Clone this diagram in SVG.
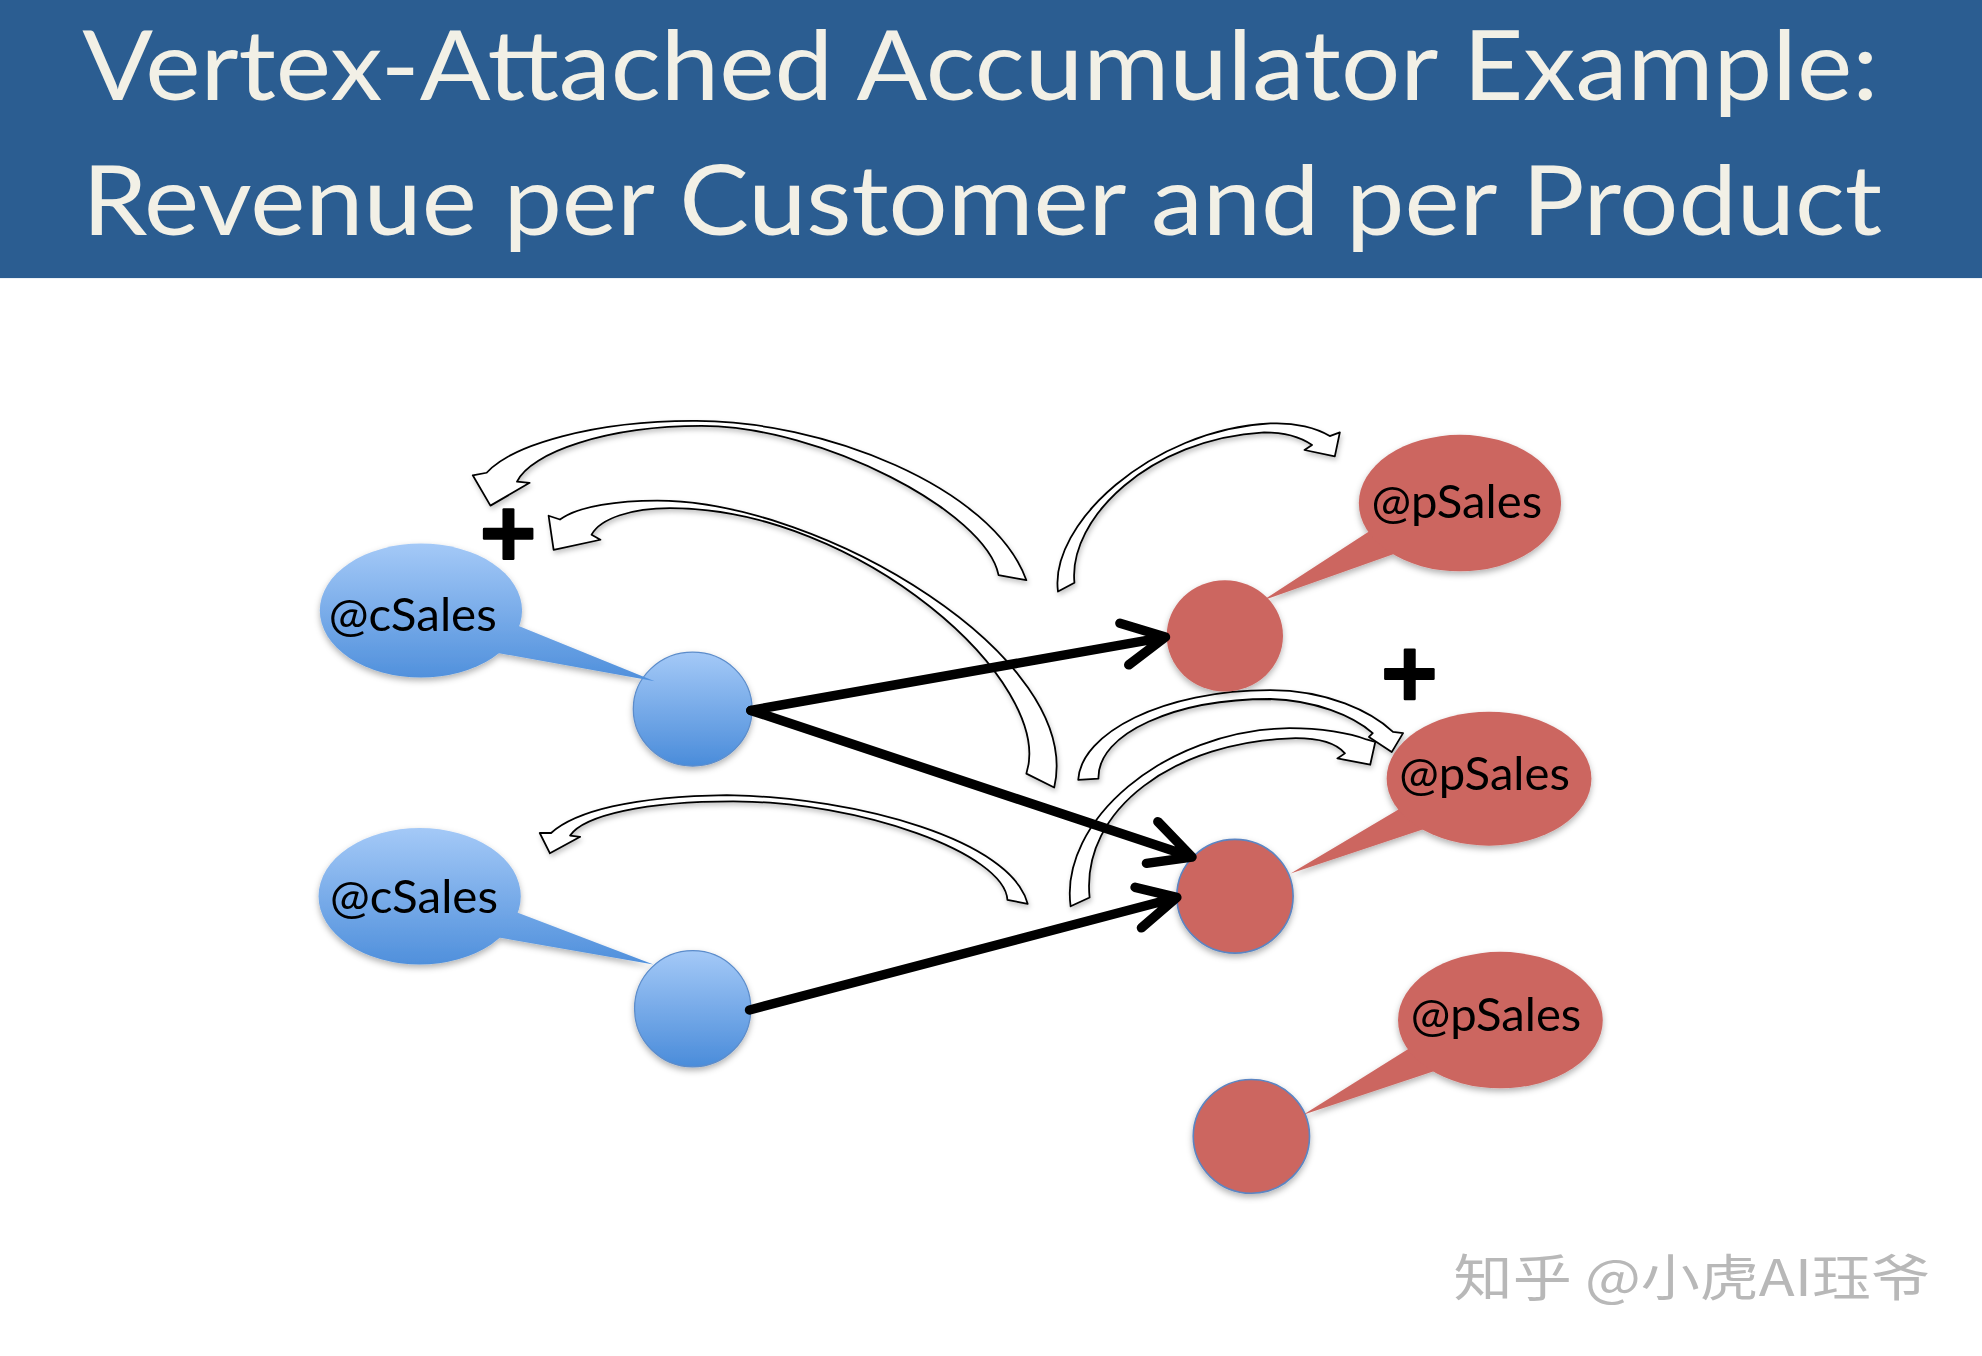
<svg xmlns="http://www.w3.org/2000/svg" width="1982" height="1356" viewBox="0 0 1982 1356">
<style>
.title{font-family:Lato,"Open Sans","Liberation Sans",sans-serif;fill:#F2F0E6;font-size:77px}
.lbl{font-family:Lato,"Open Sans","Liberation Sans",sans-serif;fill:#000;font-size:36px}
.carrow{fill:#fff;stroke:#000;stroke-width:1.4;stroke-linejoin:round}
.black{fill:none;stroke:#000;stroke-width:7.5;stroke-linecap:round;stroke-linejoin:round}
.red{fill:#CC6661}
.redo{fill:#CC6661;stroke:#5B85C2;stroke-width:1.3}
.bluen{stroke:#5B8CCB;stroke-width:1}
</style>
<defs>
<linearGradient id="gb" x1="0" y1="0" x2="0" y2="1"><stop offset="0" stop-color="#A4C9F7"/><stop offset="1" stop-color="#4A8CDA"/></linearGradient>
<linearGradient id="gc1" gradientUnits="userSpaceOnUse" x1="0" y1="430" x2="0" y2="545"><stop offset="0" stop-color="#A4C9F7"/><stop offset="1" stop-color="#4A8CDA"/></linearGradient>
<linearGradient id="gc2" gradientUnits="userSpaceOnUse" x1="0" y1="655" x2="0" y2="770"><stop offset="0" stop-color="#A4C9F7"/><stop offset="1" stop-color="#4A8CDA"/></linearGradient>
<filter id="sh" x="-20%" y="-20%" width="140%" height="150%"><feDropShadow dx="0" dy="2.5" stdDeviation="2.5" flood-color="#000" flood-opacity="0.3"/></filter>
<filter id="sha" x="-10%" y="-10%" width="120%" height="130%"><feDropShadow dx="1" dy="2.5" stdDeviation="2" flood-color="#000" flood-opacity="0.22"/></filter>
</defs>
<rect width="1982" height="1356" fill="#fff"/>
<g transform="scale(1.26403)">
<g id="title">
<rect x="0" y="0" width="1568" height="220" fill="#2B5D91"/>
<text class="title" x="65" y="79" textLength="1421" lengthAdjust="spacingAndGlyphs">Vertex-Attached Accumulator Example:</text>
<text class="title" x="65" y="186" textLength="1424" lengthAdjust="spacingAndGlyphs">Revenue per Customer and per Product</text>
</g>
<g id="accum-arrows" filter="url(#sha)">
<path class="carrow" d="M385,374 C405,352 470,333 548,333 C650,332 785,385 812,459 L790,455 C780,405 650,337 555,337 C480,337 420,358 409,381 L419,382 L388,400 L374,376 Z"/>
<path class="carrow" d="M443,411 C458,400 490,396 520,396 C650,396 858,520 834,623 L812,612 C835,540 680,402 530,402 C500,402 475,410 468,423 L475,427 L438,435 L434,408 Z"/>
<path class="carrow" d="M837,468 C830,415 910,340 1005,335 C1025,334 1042,339 1052,345 L1060,342 L1056,361 L1032,356 L1038,352 C1028,345 1015,342 1000,342 C910,347 845,410 850,461 Z"/>
<path class="carrow" d="M853,617 C855,580 920,546 1005,546 C1050,546 1085,563 1102,579 L1110,580 L1101,595 L1083,583 L1086,580 C1070,566 1040,554 1005,553 C930,553 868,580 869,616 Z"/>
<path class="carrow" d="M847,717 C838,650 920,578 1020,576 C1045,576 1068,580 1081,585 L1088,587 L1084,605 L1058,600 L1064,596 C1058,589 1045,584 1025,584 C930,586 855,640 862,710 Z"/>
<path class="carrow" d="M436,659 C455,642 500,630 575,629 C680,631 800,665 813,715 L797,712 C795,675 680,634 580,634 C510,634 462,645 451,661 L459,662 L435,675 L427,659 Z"/>
</g>
<g id="customer1" filter="url(#sh)">
<ellipse class="bluen" cx="548" cy="561" rx="47" ry="45" fill="url(#gb)"/>
<path d="M518,539 L405,493 L385,515 Z" fill="url(#gc1)"/>
<ellipse cx="333" cy="483" rx="80" ry="53" fill="url(#gc1)"/>
<text class="lbl" x="260" y="499" textLength="133" lengthAdjust="spacingAndGlyphs">@cSales</text>
</g>
<g id="customer2" filter="url(#sh)">
<ellipse class="bluen" cx="548" cy="798" rx="46" ry="46" fill="url(#gb)"/>
<path d="M517,763 L404,720 L385,740 Z" fill="url(#gc2)"/>
<ellipse cx="332" cy="709" rx="80" ry="54" fill="url(#gc2)"/>
<text class="lbl" x="261" y="722" textLength="133" lengthAdjust="spacingAndGlyphs">@cSales</text>
</g>
<g id="product1" filter="url(#sh)">
<ellipse class="red" cx="969" cy="503" rx="46" ry="44"/>
<path class="red" d="M999,475 L1090,416 L1115,434 Z"/>
<ellipse class="red" cx="1155" cy="398" rx="80" ry="54"/>
<text class="lbl" x="1085" y="410" textLength="135" lengthAdjust="spacingAndGlyphs">@pSales</text>
</g>
<g id="product2" filter="url(#sh)">
<ellipse class="redo" cx="977" cy="709" rx="46" ry="45"/>
<path class="red" d="M1021,691 L1112,637 L1135,653 Z"/>
<ellipse class="red" cx="1178" cy="616" rx="81" ry="53"/>
<text class="lbl" x="1107" y="625" textLength="135" lengthAdjust="spacingAndGlyphs">@pSales</text>
</g>
<g id="product3" filter="url(#sh)">
<ellipse class="redo" cx="990" cy="899" rx="46" ry="45"/>
<path class="red" d="M1031,882 L1122,825 L1145,844 Z"/>
<ellipse class="red" cx="1187" cy="807" rx="81" ry="54"/>
<text class="lbl" x="1116" y="816" textLength="135" lengthAdjust="spacingAndGlyphs">@pSales</text>
</g>
<g id="edges">
<path class="black" d="M594,562 L922,504 M886,493 L922,504 L893,526"/>
<path class="black" d="M594,562 L943,678 M916,650 L943,678 L907,683"/>
<path class="black" d="M593,799 L931,710 M898,702 L931,710 L903,734"/>
</g>
<g id="plus1" fill="#000">
<rect x="382" y="417.5" width="40" height="9.5" rx="1"/>
<rect x="397.5" y="402" width="9.5" height="41" rx="1"/>
</g>
<g id="plus2" fill="#000">
<rect x="1095" y="528.5" width="40" height="9.5" rx="1"/>
<rect x="1110.5" y="513" width="9.5" height="41" rx="1"/>
</g>
<text x="1150" y="1025" font-family="'Noto Sans CJK SC',sans-serif" font-size="40" fill="#B8B8B8" textLength="377" lengthAdjust="spacingAndGlyphs">知乎 @小虎AI珏爷</text>
</g>
</svg>
